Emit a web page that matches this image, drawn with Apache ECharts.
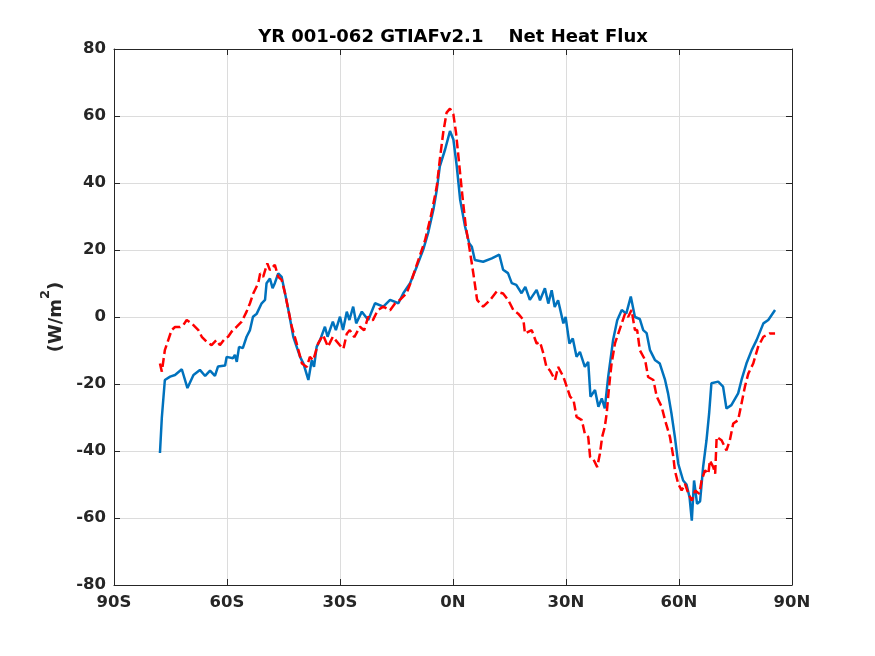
<!DOCTYPE html>
<html><head><meta charset="utf-8">
<script src="https://cdn.jsdelivr.net/npm/echarts@6/dist/echarts.min.js"></script>
<style>html,body{margin:0;padding:0;background:#fff}#c{width:875px;height:656px}</style>
</head><body><div id="c"></div>
<script>
var titleText = 'YR 001-062 GTIAFv2.1    Net Heat Flux';
var xTickLabels = {'-90':'90S','-60':'60S','-30':'30S','0':'0N','30':'30N','60':'60N','90':'90N'};
var yTicks = [-80,-60,-40,-20,0,20,40,60,80];

// [latitude, W/m2] – solid blue series
var blueSeries = [[-77.8,-40.6],[-77.3,-30],[-76.5,-18.8],[-75.1,-17.8],[-73.8,-17.3],[-72.0,-15.6],[-70.5,-21.2],[-68.9,-17.3],[-67.2,-15.8],[-65.8,-17.6],[-64.5,-16.0],[-63.2,-17.6],[-62.4,-14.8],[-60.5,-14.5],[-60.1,-11.9],[-58.4,-12.3],[-57.9,-11.3],[-57.4,-13.4],[-56.8,-8.9],[-55.8,-9.3],[-54.8,-5.9],[-53.9,-3.9],[-53.1,0.1],[-52.1,1],[-50.8,4.1],[-49.9,5.1],[-49.5,10.1],[-48.6,11.5],[-47.9,8.6],[-47.3,10.1],[-46.4,13],[-45.5,12],[-44.6,7.1],[-43.7,2.1],[-42.4,-5.9],[-40.6,-11.9],[-39.7,-13.9],[-38.4,-18.8],[-37.5,-12.9],[-36.9,-14.9],[-36.2,-8.9],[-35.3,-6.9],[-34.0,-2.9],[-33.3,-5.9],[-31.9,-1.4],[-31.1,-3.9],[-30.0,0.1],[-29.2,-3.9],[-28.2,1.6],[-27.5,-0.9],[-26.5,3.1],[-25.7,-1.9],[-24.2,1.6],[-22.5,-0.9],[-20.7,4.1],[-18.5,3.1],[-16.7,5.1],[-14.5,4.1],[-13.2,7.1],[-11.4,10.1],[-9.6,15.1],[-7.9,20.1],[-6.6,25.1],[-5.2,32.1],[-4.3,38],[-3.5,45],[-2.1,50],[-0.8,55.5],[0.1,53],[1.0,45],[1.9,35],[3.2,27],[4.3,22],[5.0,21],[5.8,17],[8.0,16.5],[10.3,17.5],[12.3,18.6],[13.3,14.1],[14.6,13.1],[15.6,10.1],[16.8,9.6],[18.2,7.1],[19.2,9],[20.4,5.1],[22.2,8.1],[23.1,5],[24.4,8.6],[25.3,4],[26.2,8],[27.0,3],[27.9,5],[29.3,-1.9],[29.9,0],[30.9,-7.9],[31.8,-6.4],[32.8,-11.9],[33.7,-10.4],[35.0,-14.9],[35.9,-13.4],[36.5,-23.8],[37.7,-21.8],[38.6,-26.8],[39.5,-24.3],[40.3,-27.3],[41.2,-17.9],[42.5,-6.9],[43.6,-1.0],[44.8,2.1],[46.0,1],[47.2,6.1],[48.3,0],[49.6,-0.6],[50.5,-3.9],[51.4,-4.8],[52.3,-9.9],[53.6,-12.8],[54.9,-13.9],[56.3,-18.8],[57.1,-22.8],[58.0,-28.8],[58.9,-35.8],[59.8,-43.8],[61.1,-48.8],[62.0,-50],[62.8,-53.8],[63.4,-60.8],[64.0,-48.8],[64.8,-55.8],[65.6,-55],[66.4,-44.8],[67.3,-36.8],[68.0,-28.8],[68.6,-19.8],[70.4,-19.3],[71.7,-20.8],[72.6,-27.3],[73.9,-26.3],[75.7,-22.8],[76.6,-18.8],[77.9,-13.9],[79.3,-9.9],[80.6,-6.9],[82.4,-1.9],[83.7,-0.9],[85.5,2.1]];

// [latitude, W/m2] – dashed red series
var redSeries = [[-77.8,-13.9],[-77.3,-16.3],[-76.5,-9.9],[-75.9,-7.9],[-75.6,-6.9],[-74.7,-3.9],[-73.8,-3],[-72.5,-3],[-71.6,-2.4],[-70.7,-0.9],[-69.4,-1.9],[-67.6,-3.9],[-66.7,-5.9],[-65.4,-7.4],[-64.1,-8.4],[-62.8,-6.9],[-61.9,-8.4],[-60.5,-6.4],[-59.7,-5.9],[-58.8,-4.4],[-57.4,-2.9],[-56.1,-1.4],[-54.8,1.6],[-53.9,4.1],[-53.0,7.1],[-51.7,10.1],[-51.2,13],[-50.4,12],[-49.3,16],[-48.6,14],[-47.3,15.6],[-46.4,12],[-45.5,11.1],[-44.6,7.1],[-43.7,2.1],[-42.8,-2.9],[-41.5,-7.9],[-40.1,-13.9],[-38.8,-14.9],[-38.0,-11.9],[-37.1,-12.9],[-35.8,-7.9],[-34.5,-5.4],[-33.2,-8.9],[-31.9,-5.9],[-29.7,-8.9],[-29.1,-9.5],[-28.2,-5],[-27.4,-3.9],[-26.2,-6],[-24.7,-2.9],[-23.6,-4],[-22.5,0.1],[-21.3,-1],[-20.0,2],[-18.5,3.1],[-16.7,2],[-15.4,4],[-14.1,5.1],[-12.3,7.1],[-11.0,11],[-9.2,17],[-7.4,23],[-5.7,31],[-4.3,39],[-3.5,47],[-2.6,55],[-1.7,61],[-0.8,62.2],[0.1,60.5],[0.8,55],[1.7,45],[2.6,35],[3.4,27],[4.3,21],[5.4,13],[6.4,5.1],[8.0,3.1],[9.8,5],[11.6,7.6],[13.3,7],[14.7,5],[16.0,2.1],[17.3,1],[18.7,-0.9],[19.1,-4.9],[20.9,-3.9],[22.2,-7.9],[23.1,-7.5],[24.0,-10.9],[24.8,-14.9],[25.7,-15.9],[27.1,-18.8],[27.9,-14.9],[29.3,-17.8],[30.2,-20.8],[31.1,-23.8],[32.0,-24.8],[32.8,-29.8],[34.2,-30.8],[35.0,-34.8],[35.9,-35.8],[36.4,-41.8],[37.2,-42.3],[38.3,-44.8],[39.0,-40.8],[39.6,-35.8],[40.3,-32.8],[40.8,-28.8],[41.2,-23.8],[41.7,-17.9],[42.1,-13.9],[43.0,-7.9],[43.9,-4.9],[44.8,-1.9],[45.7,1.1],[46.5,0],[47.4,2.1],[48.3,-3.9],[48.9,-3.9],[49.6,-9.9],[51.0,-12.8],[51.8,-17.9],[53.2,-18.8],[54.1,-23.8],[55.4,-26.8],[56.3,-30.8],[57.6,-35.8],[58.5,-41.8],[58.9,-45.8],[59.8,-49.8],[60.7,-51.8],[61.6,-49.8],[62.5,-52.8],[63.4,-54.8],[64.3,-51.8],[65.4,-52.8],[66.0,-48.8],[66.9,-45.8],[67.8,-46.8],[68.2,-42.8],[69.1,-44.8],[69.6,-46.8],[70.0,-35.8],[71.3,-36.8],[72.6,-39.8],[73.5,-36.8],[74.4,-31.8],[75.7,-30.8],[76.6,-25.8],[77.5,-20.8],[78.4,-16.9],[79.7,-13.9],[81.0,-8.9],[82.4,-5.9],[84.1,-4.9],[85.5,-4.9]];

var FONT = 'DejaVu Sans';
var TXT = '#262626';
var chart = echarts.init(document.getElementById('c'), null, {renderer:'canvas'});
var lbl = {fontFamily:FONT, fontWeight:'bold', fontSize:16.5, color:TXT};
var axisLine = {show:true, onZero:false, lineStyle:{color:TXT, width:1}};
var tick = {show:true, inside:true, length:6, lineStyle:{color:TXT, width:1}};
var grid = {show:true, lineStyle:{color:'#dcdcdc', width:1}};
chart.setOption({
  animation:false,
  title:{text:titleText, left:448, top:23, textAlign:'center',
    textStyle:{fontFamily:FONT, fontWeight:'bold', fontSize:18, color:'#000'}},
  grid:{left:114, right:83, top:49, bottom:71, containLabel:false},
  xAxis:[
    {type:'value', min:-90, max:90, interval:30, position:'bottom',
     axisLine:axisLine, axisTick:tick, splitLine:grid,
     axisLabel:Object.assign({margin:9, formatter:function(v){return xTickLabels[String(v)];}}, lbl)},
    {type:'value', min:-90, max:90, interval:30, position:'top',
     axisLine:axisLine, axisTick:tick, splitLine:{show:false}, axisLabel:{show:false}}
  ],
  yAxis:[
    {type:'value', min:yTicks[0], max:yTicks[yTicks.length-1], interval:20, position:'left',
     axisLine:axisLine, axisTick:tick, splitLine:grid,
     axisLabel:Object.assign({margin:8}, lbl),
     name:'{m|(W/m}{s|2}{m|)}', nameLocation:'middle', nameGap:45, nameRotate:90,
     nameTextStyle:{rich:{
       m:{fontFamily:FONT, fontWeight:'bold', fontSize:18, color:TXT, verticalAlign:'bottom', lineHeight:26},
       s:{fontFamily:FONT, fontWeight:'bold', fontSize:13, color:TXT, verticalAlign:'top', lineHeight:26, padding:[0,0,8,0]}
     }}},
    {type:'value', min:yTicks[0], max:yTicks[yTicks.length-1], interval:20, position:'right',
     axisLine:axisLine, axisTick:tick, splitLine:{show:false}, axisLabel:{show:false}}
  ],
  series:[
    {type:'line', data:blueSeries, showSymbol:false, symbol:'none',
     lineStyle:{color:'#0072BD', width:2.5}, z:3},
    {type:'line', data:redSeries, showSymbol:false, symbol:'none',
     lineStyle:{color:'#FF0000', width:2.5, type:[9,4]}, z:4}
  ]
});
</script></body></html>
